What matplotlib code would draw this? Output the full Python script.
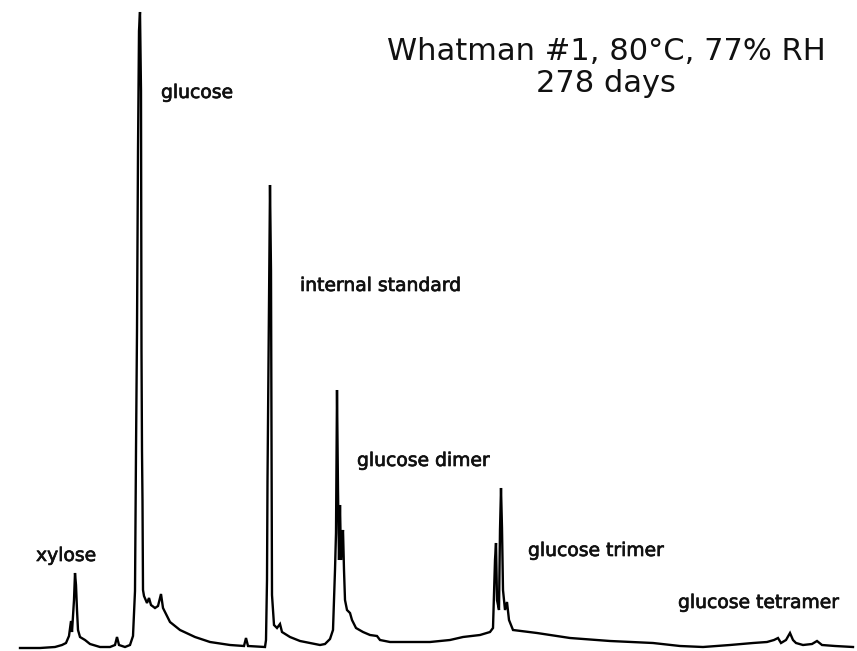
import matplotlib
matplotlib.use("Agg")
from matplotlib import pyplot as plt
from matplotlib import patheffects

# chromatogram trace (time in arbitrary units, response = detector signal)
time = [20, 40, 55, 62, 66, 69, 71, 72, 74, 75, 76, 77, 78, 80, 85, 90, 100, 110, 115, 117, 119,
        125, 130, 133, 135, 136, 137, 138, 139, 140, 141, 141.5, 142, 142.5, 143, 144, 147, 149,
        151, 155, 158, 161, 163, 170, 180, 195, 210, 230, 244, 246, 248, 265, 266, 267, 267.5,
        268, 269, 270, 271, 271.5, 272, 274, 277, 280, 282, 290, 300, 320, 325, 330, 333, 335,
        336, 337, 338, 339, 340, 341, 342, 343, 344, 345, 347, 350, 352, 356, 363, 370, 377, 380,
        390, 430, 450, 463, 480, 490, 493, 495, 496, 497, 499, 500, 501, 502, 503, 505, 507, 509,
        513, 537, 570, 610, 653, 680, 703, 730, 753, 767, 774, 778, 781, 786, 790, 793, 796, 803,
        812, 817, 822, 835, 853]
response = [3, 3, 4, 6, 8, 15, 30, 19, 51, 78, 66, 41, 21, 14, 11, 7, 4, 4, 6, 14, 6,
            4, 6, 15, 60, 200, 320, 500, 620, 639, 560, 300, 200, 150, 61, 55, 48, 53,
            46, 43, 45, 57, 43, 29, 21, 14, 9, 6, 5, 13, 5, 4, 11, 71, 170,
            231, 360, 466, 380, 231, 56, 26, 23, 27, 19, 14, 10, 6, 7, 12, 21, 81,
            118, 261, 161, 91, 146, 91, 111, 121, 81, 51, 41, 38, 31, 23, 19, 16, 15, 11,
            9, 9, 11, 14, 16, 19, 23, 91, 108, 51, 41, 121, 163, 123, 61, 41, 49, 31,
            21, 18, 13, 10, 8, 5, 4, 6, 8, 9, 11, 13, 8, 11, 18, 11, 8, 6,
            7, 10, 6, 5, 4]

labels = ["xylose", "glucose", "internal standard", "glucose dimer", "glucose trimer", "glucose tetramer"]
label_time = [36, 161, 300, 357, 528, 678]
label_resp = [90, 553, 360, 185, 95, 43]

title_lines = ["Whatman #1, 80\u00b0C, 77% RH", "278 days"]
title_resp = [591, 559]

fig = plt.figure(figsize=(8.57, 6.51), dpi=100)
ax = fig.add_axes([0, 0, 1, 1])
ax.plot(time, response, color="black", lw=1.7, solid_joinstyle="miter")
ax.set_xlim(0, 857)
ax.set_ylim(0, 651)
ax.axis("off")

# scanned print looks slightly heavier than plain DejaVu
bolder = [patheffects.withStroke(linewidth=0.5, foreground="#111111")]

for name, t, r in zip(labels, label_time, label_resp):
    ax.text(t, r, name, fontsize=13.5, fontfamily="DejaVu Sans", color="#111111",
            ha="left", va="baseline", path_effects=bolder)

for line, r in zip(title_lines, title_resp):
    ax.text(606, r, line, fontsize=22, fontfamily="DejaVu Sans", color="#111111",
            ha="center", va="baseline")

fig.savefig("out.png", dpi=100, facecolor="white")
